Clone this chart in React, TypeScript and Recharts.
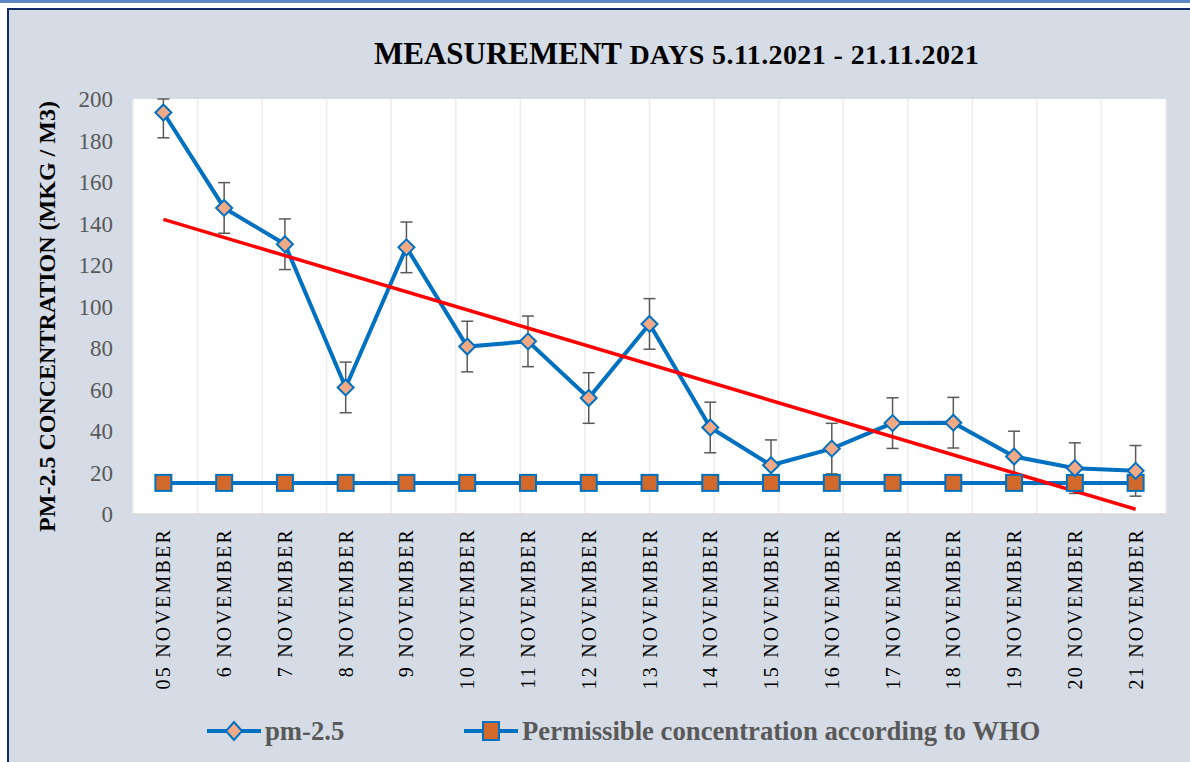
import React from 'react';
import { LineChart, Line, XAxis, YAxis, CartesianGrid, ErrorBar, Legend } from 'recharts';

const days = [
  '05 NOVEMBER', '6 NOVEMBER', '7 NOVEMBER', '8 NOVEMBER', '9 NOVEMBER', '10 NOVEMBER',
  '11 NOVEMBER', '12 NOVEMBER', '13 NOVEMBER', '14 NOVEMBER', '15 NOVEMBER', '16 NOVEMBER',
  '17 NOVEMBER', '18 NOVEMBER', '19 NOVEMBER', '20 NOVEMBER', '21 NOVEMBER',
];
const pm25 = [193.5, 147.5, 130, 61, 128.5, 80.7, 83.2, 55.9, 91.6, 41.7, 23.5, 31.5, 43.8, 44, 27.7, 22.1, 20.8];
// [down, up]; the first bar runs past the top of the axis, so only its visible part is kept
const pm25Error = [
  [12.2, 6.5], [12.2, 12.2], [12.2, 12.2], [12.2, 12.2], [12.2, 12.2], [12.2, 12.2],
  [12.2, 12.2], [12.2, 12.2], [12.2, 12.2], [12.2, 12.2], [12.2, 12.2], [12.2, 12.2],
  [12.2, 12.2], [12.2, 12.2], [12.2, 12.2], [12.2, 12.2], [12.2, 12.2],
];
const whoLimit = [15, 15, 15, 15, 15, 15, 15, 15, 15, 15, 15, 15, 15, 15, 15, 15, 15];
const trend = [142, null, null, null, null, null, null, null, null, null, null, null, null, null, null, null, 2.3];
const yTicks = [0, 20, 40, 60, 80, 100, 120, 140, 160, 180, 200];
// half-category steps, used for the vertical grid and the boundary tick marks
const gridTicks = Array.from({ length: 35 }, (_, i) => i);

const data = days.map((day, i) => ({
  day,
  pm: pm25[i],
  err: pm25Error[i],
  who: whoLimit[i],
  trend: trend[i],
}));

const SERIF = '"Liberation Serif", "Times New Roman", serif';
const BLUE = '#0070C0';
const PEACH = '#F2A985';
const ORANGE = '#D2692A';

const Diamond = ({ cx, cy }: any) => {
  if (cx == null || cy == null) return null;
  const r = 8;
  return (
    <polygon
      points={`${cx},${cy - r} ${cx + r},${cy} ${cx},${cy + r} ${cx - r},${cy}`}
      fill={PEACH}
      stroke={BLUE}
      strokeWidth={2}
    />
  );
};

const Square = ({ cx, cy }: any) => {
  if (cx == null || cy == null) return null;
  return <rect x={cx - 8} y={cy - 8} width={16} height={16} fill={ORANGE} stroke={BLUE} strokeWidth={2} />;
};

const DayTick = ({ x, y, payload }: any) => (
  <text
    x={x}
    y={y}
    transform={`rotate(-90, ${x}, ${y})`}
    textAnchor="end"
    dy="0.35em"
    fontFamily={SERIF}
    fontSize={20}
    letterSpacing={2.2}
    fill="#000"
  >
    {payload.value}
  </text>
);

const BoundaryTick = ({ x, y, payload }: any) => {
  if (payload.value % 2 !== 0) return <g />;
  return <line x1={x} x2={x} y1={y} y2={y + 7} stroke="#d9d9d9" strokeWidth={1.5} />;
};

const AxisTitle = ({ viewBox }: any) => {
  if (!viewBox) return null;
  const cx = viewBox.x + 37;
  const cy = viewBox.y + viewBox.height / 2 + 10;
  return (
    <text
      x={cx}
      y={cy}
      transform={`rotate(-90, ${cx}, ${cy})`}
      textAnchor="middle"
      dominantBaseline="central"
      fontFamily={SERIF}
      fontWeight="bold"
      fontSize={24}
      fill="#000"
    >
      PM-2.5 CONCENTRATION (MKG / M3)
    </text>
  );
};

const LegendIcon = ({ square }: { square?: boolean }) => (
  <svg width={54} height={22} style={{ display: 'block' }}>
    <line x1={0} x2={54} y1={11} y2={11} stroke={BLUE} strokeWidth={4} />
    {square ? (
      <rect x={19} y={2} width={16} height={18} fill={ORANGE} stroke={BLUE} strokeWidth={2} />
    ) : (
      <polygon points="27,2 35,11 27,20 19,11" fill={PEACH} stroke={BLUE} strokeWidth={2} />
    )}
  </svg>
);

const LegendContent = () => (
  <div
    style={{
      position: 'relative',
      height: 40,
      fontFamily: SERIF,
      fontWeight: 'bold',
      fontSize: 26.7,
      color: '#595959',
    }}
  >
    <div style={{ position: 'absolute', left: 197, top: 0, height: 40, display: 'flex', alignItems: 'center' }}>
      <LegendIcon />
      <span style={{ marginLeft: 4, whiteSpace: 'nowrap' }}>pm-2.5</span>
    </div>
    <div style={{ position: 'absolute', left: 454, top: 0, height: 40, display: 'flex', alignItems: 'center' }}>
      <LegendIcon square />
      <span style={{ marginLeft: 4, whiteSpace: 'nowrap' }}>Permissible concentration according to WHO</span>
    </div>
  </div>
);

export default function App() {
  return (
    <div style={{ position: 'fixed', left: 0, top: 0, width: 1190, height: 762, background: '#fff', overflow: 'hidden' }}>
      <div style={{ position: 'absolute', left: 0, top: 0, width: 1190, height: 3, background: '#5B87C5' }} />
      <div
        style={{
          position: 'absolute',
          left: 7,
          top: 8,
          width: 1300,
          height: 800,
          background: '#D6DCE5',
          borderTop: '2px solid #112B66',
          borderLeft: '2px solid #112B66',
        }}
      />
      <svg width={1190} height={100} style={{ position: 'absolute', left: 0, top: 0 }}>
        <text x={374} y={64} fontFamily={SERIF} fontWeight="bold" fill="#000">
          <tspan fontSize={31}>MEASUREMENT</tspan>
          <tspan fontSize={28} letterSpacing={0.4}> DAYS 5.11.2021 - 21.11.2021</tspan>
        </text>
      </svg>
      <div style={{ position: 'absolute', left: 10, top: 10 }}>
        <LineChart width={1178} height={752} data={data} margin={{ top: 89, right: 22, left: 0, bottom: 11 }}>
          <XAxis
            xAxisId="grid"
            type="number"
            domain={[0, 34]}
            ticks={gridTicks}
            height={0}
            axisLine={false}
            tickLine={false}
            tickSize={0}
            tick={<BoundaryTick />}
            interval={0}
          />
          <XAxis
            xAxisId="cat"
            dataKey="day"
            scale="band"
            height={197}
            interval={0}
            tickLine={false}
            tickSize={0}
            tickMargin={14}
            axisLine={{ stroke: '#d9d9d9', strokeWidth: 1.5 }}
            tick={<DayTick />}
          />
          <YAxis
            domain={[0, 200]}
            ticks={yTicks}
            allowDataOverflow
            width={123}
            axisLine={false}
            tickLine={false}
            tickSize={0}
            tickMargin={20}
            tick={{ fontFamily: SERIF, fontSize: 23, fill: '#595959' }}
            label={<AxisTitle />}
          />
          <CartesianGrid
            xAxisId="grid"
            horizontal={false}
            vertical
            fill="#fff"
            stroke="#ececec"
            strokeWidth={1.5}
          />
          <Legend verticalAlign="bottom" content={<LegendContent />} />
          <Line
            xAxisId="cat"
            dataKey="who"
            stroke={BLUE}
            strokeWidth={4}
            dot={(p: any) => <Square key={`s-${p.index}`} {...p} />}
            activeDot={false}
            isAnimationActive={false}
            legendType="none"
          />
          <Line
            xAxisId="cat"
            dataKey="pm"
            stroke={BLUE}
            strokeWidth={4}
            dot={(p: any) => <Diamond key={`d-${p.index}`} {...p} />}
            activeDot={false}
            isAnimationActive={false}
          >
            <ErrorBar dataKey="err" direction="y" width={6} stroke="#595959" strokeWidth={1.5} />
          </Line>
          <Line
            xAxisId="cat"
            dataKey="trend"
            stroke="#FF0000"
            strokeWidth={3.5}
            connectNulls
            dot={false}
            activeDot={false}
            isAnimationActive={false}
          />
        </LineChart>
      </div>
    </div>
  );
}
